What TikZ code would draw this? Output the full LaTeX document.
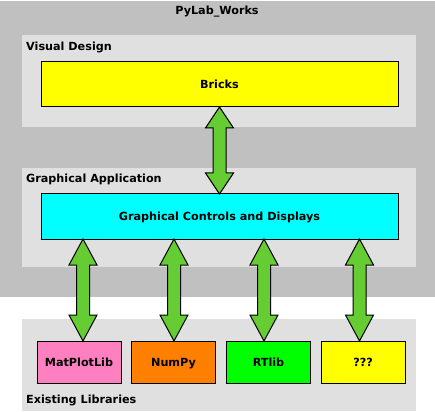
\documentclass[tikz,border=0pt]{standalone}
\usepackage{fontspec}
\setmainfont{DejaVu Sans}
\usetikzlibrary{calc}
\definecolor{outergray}{HTML}{C0C0C0}
\definecolor{panelgray}{HTML}{E0E0E0}
\definecolor{arrowgreen}{HTML}{66CC33}
\definecolor{libpink}{HTML}{FF80C0}
\definecolor{liborange}{HTML}{FF8000}
\definecolor{boxyellow}{HTML}{FFFF00}
\definecolor{boxcyan}{HTML}{00FFFF}
\definecolor{boxgreen}{HTML}{00FF00}
\tikzset{
  txt/.style={font=\fontsize{11.2}{13}\selectfont\bfseries, text height=8pt, text depth=0pt},
  panel/.style={fill=panelgray, draw=none, anchor=north west, inner sep=0pt, outer sep=0pt},
  box/.style={draw=black, line width=1pt, anchor=north west, inner sep=0pt, outer sep=0pt, txt},
  lbl/.style={anchor=west, inner sep=0pt, txt},
  fatarrow/.style={fill=arrowgreen, draw=black, line width=1pt, line join=miter},
}
\newcommand{\dblarrow}[3]{%
  \draw[fatarrow] let \p1=(#1), \p2=(#2) in
    (\x1,\y1) -- (\x1+14pt,\y1-#3) -- (\x1+6.5pt,\y1-#3) -- (\x1+6.5pt,\y2+#3)
    -- (\x1+14pt,\y2+#3) -- (\x1,\y2) -- (\x1-14pt,\y2+#3) -- (\x1-6.5pt,\y2+#3)
    -- (\x1-6.5pt,\y1-#3) -- (\x1-14pt,\y1-#3) -- cycle;}
\begin{document}
\begin{tikzpicture}[x=1pt,y=-1pt]
\useasboundingbox (0,0) rectangle (435,411);
\fill[white] (0,0) rectangle (435,411);
% outer area
\node[panel, fill=outergray, minimum width=435pt, minimum height=296pt] (outer) at (0,1) {};
\node[txt, inner sep=0pt] (title) at (217,11) {PyLab\_Works};
% panels
\node[panel, minimum width=394pt, minimum height=92pt] (vd) at (22,35) {};
\node[panel, minimum width=394pt, minimum height=99pt] (ga) at (22,168) {};
\node[panel, minimum width=394pt, minimum height=92pt] (el) at (22,319) {};
\node[lbl] (vdl) at (26,46.5) {Visual Design};
\node[lbl] (gal) at (26,179) {Graphical Application};
\node[lbl] (ell) at (26,399) {Existing Libraries};
% boxes
\node[box, fill=boxyellow, minimum width=357pt, minimum height=45pt] (bricks) at (41,62) {Bricks};
\node[box, fill=boxcyan, minimum width=357pt, minimum height=45pt] (gcd) at (41,194) {Graphical Controls and Displays};
\node[box, fill=libpink, minimum width=84pt, minimum height=42pt] (mpl) at (37,341) {MatPlotLib};
\node[box, fill=liborange, minimum width=84pt, minimum height=42pt] (numpy) at (131.5,341) {NumPy};
\node[box, fill=boxgreen, minimum width=84pt, minimum height=42pt] (rtlib) at (226.5,341) {RTlib};
\node[box, fill=boxyellow, minimum width=84pt, minimum height=42pt] (unk) at (321,341) {???};
% arrow end points
\coordinate (a1) at ([xshift=4pt]mpl.north);
\coordinate (a2) at ([xshift=0.5pt]numpy.north);
\coordinate (a3) at ([xshift=-4.5pt]rtlib.north);
\coordinate (a4) at ([xshift=-3.5pt]unk.north);
% arrows
\dblarrow{bricks.south}{gcd.north}{21pt}
\dblarrow{gcd.south -| a1}{a1}{26pt}
\dblarrow{gcd.south -| a2}{a2}{26pt}
\dblarrow{gcd.south -| a3}{a3}{26pt}
\dblarrow{gcd.south -| a4}{a4}{26pt}
\end{tikzpicture}
\end{document}
